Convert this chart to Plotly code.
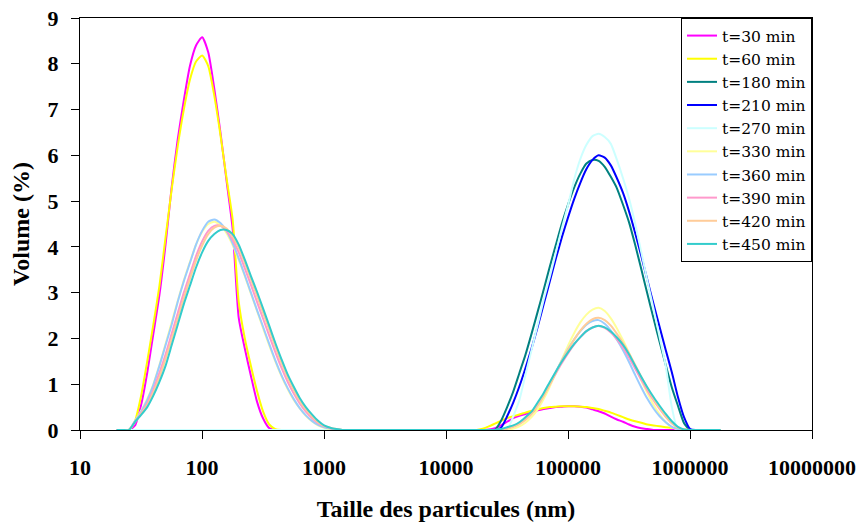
import plotly.graph_objects as go

# Particle size classes (nm)
sizes_nm = [
    20.0, 22.44, 25.18, 28.25, 31.70, 35.57, 39.91, 44.77, 50.24, 56.37,
    63.25, 70.96, 79.62, 89.34, 100.24, 112.47, 126.19, 141.59, 158.87, 178.25,
    200.0, 224.4, 251.8, 282.5, 317.0, 355.7, 399.1, 447.7, 502.4, 563.7,
    632.5, 709.6, 796.2, 893.4, 1002.4, 1124.7, 1261.9, 1415.9, 1588.7, 1782.5,
    2000, 2244, 2518, 2825, 3170, 3557, 3991, 4477, 5024, 5637,
    6325, 7096, 7962, 8934, 10024, 11247, 12619, 14159, 15887, 17825,
    20000, 22440, 25179, 28251, 31698, 35566, 39905, 44774, 50238, 56368,
    63246, 70963, 79621, 89337, 100237, 112468, 126191, 141589, 158866, 178250,
    200000, 224404, 251785, 282508, 316979, 355656, 399052, 447744, 502377, 563677,
    632456, 709627, 796214, 893367, 1002374, 1124683, 1261915, 1415892, 1588656, 1782502,
]

# Volume (%) per series
t30 = ([0] * 3
       + [0.1, 0.55, 1.25, 2.1, 2.95, 4.05, 5.3, 6.35, 7.2, 7.95, 8.4, 8.58, 8.25, 7.45,
          6.5, 5.45, 4.4, 2.45, 1.78, 1.18, 0.62, 0.25, 0.04, 0]
       + [0] * 34
       + [0.01, 0.04, 0.1, 0.18, 0.26, 0.31, 0.35, 0.39, 0.43, 0.46, 0.48, 0.5, 0.51, 0.52,
          0.52, 0.51, 0.49, 0.45, 0.41, 0.36, 0.29, 0.23, 0.18, 0.12, 0.07, 0.04, 0.02]
       + [0] * 12)

t60 = ([0] * 3
       + [0.2, 0.75, 1.5, 2.3, 3.15, 4.2, 5.25, 6.2, 7.0, 7.65, 8.05, 8.18, 7.95, 7.3,
          6.45, 5.5, 4.6, 2.8, 2.0, 1.4, 0.85, 0.4, 0.12, 0.02, 0]
       + [0] * 32
       + [0.03, 0.08, 0.14, 0.2, 0.26, 0.3, 0.34, 0.38, 0.42, 0.45, 0.48, 0.5, 0.51, 0.52,
          0.52, 0.52, 0.51, 0.5, 0.48, 0.46, 0.42, 0.38, 0.33, 0.28, 0.23, 0.19, 0.16, 0.12,
          0.1, 0.08, 0.06, 0.05, 0.03, 0.01]
       + [0] * 6)

t180 = ([0] * 63
        + [0.2, 0.5, 0.84, 1.24, 1.64, 2.1, 2.58, 3.07, 3.57, 4.05, 4.52, 4.93, 5.3, 5.6,
           5.82, 5.9, 5.88, 5.75, 5.53, 5.28, 4.92, 4.53, 4.04, 3.51, 2.97, 2.44, 1.92,
           1.42, 0.93, 0.53, 0.15]
        + [0] * 6)

t210 = ([0] * 63
        + [0.05, 0.3, 0.6, 0.95, 1.35, 1.78, 2.25, 2.75, 3.25, 3.75, 4.22, 4.65, 5.05, 5.4,
           5.7, 5.9, 6.0, 5.95, 5.78, 5.5, 5.18, 4.77, 4.3, 3.8, 3.27, 2.75, 2.25, 1.75,
           1.26, 0.72, 0.28, 0.02]
        + [0] * 5)

t270 = ([0] * 65
        + [0.3, 0.65, 1.2, 1.75, 2.3, 2.85, 3.35, 3.88, 4.42, 4.92, 5.48, 5.92, 6.23, 6.42,
           6.47, 6.4, 6.25, 5.9, 5.5, 5.05, 4.5, 3.88, 3.25, 2.65, 2.03, 1.4, 0.5]
        + [0] * 8)

t330 = ([0] * 3
        + [0.2, 0.42, 0.68, 1.0, 1.42, 1.88, 2.35, 2.82, 3.27, 3.67, 4.05, 4.33, 4.5, 4.55,
           4.47, 4.3, 4.04, 3.72, 3.36, 2.98, 2.6, 2.22, 1.85, 1.5, 1.18, 0.9, 0.66, 0.47,
           0.31, 0.19, 0.1, 0.05, 0.02]
        + [0] * 29
        + [0.03, 0.08, 0.16, 0.28, 0.45, 0.68, 0.95, 1.25, 1.55, 1.85, 2.12, 2.35, 2.52,
           2.63, 2.67, 2.6, 2.44, 2.22, 1.96, 1.68, 1.38, 1.08, 0.8, 0.55, 0.34, 0.17, 0.06,
           0.01]
        + [0] * 7)

t360 = ([0] * 3
        + [0.2, 0.4, 0.65, 0.98, 1.4, 1.85, 2.3, 2.8, 3.25, 3.65, 4.05, 4.35, 4.55, 4.6,
           4.52, 4.35, 4.08, 3.75, 3.38, 3.0, 2.62, 2.25, 1.88, 1.52, 1.2, 0.92, 0.68, 0.48,
           0.32, 0.2, 0.11, 0.06, 0.03, 0.01]
        + [0] * 26
        + [0.01, 0.04, 0.08, 0.15, 0.25, 0.38, 0.56, 0.78, 1.02, 1.28, 1.53, 1.77, 1.98,
           2.16, 2.3, 2.38, 2.4, 2.32, 2.17, 1.97, 1.74, 1.48, 1.2, 0.93, 0.68, 0.47, 0.3,
           0.17, 0.07, 0.02]
        + [0] * 7)

t390 = ([0] * 3
        + [0.18, 0.37, 0.58, 0.88, 1.25, 1.65, 2.1, 2.55, 3.0, 3.4, 3.8, 4.12, 4.35, 4.46,
           4.46, 4.35, 4.15, 3.88, 3.53, 3.17, 2.8, 2.43, 2.06, 1.7, 1.36, 1.06, 0.8, 0.58,
           0.4, 0.26, 0.15, 0.08, 0.04, 0.01]
        + [0] * 26
        + [0.01, 0.04, 0.08, 0.14, 0.24, 0.36, 0.54, 0.76, 1.0, 1.24, 1.47, 1.68, 1.87,
           2.03, 2.16, 2.24, 2.27, 2.23, 2.13, 1.98, 1.8, 1.58, 1.34, 1.1, 0.86, 0.65, 0.46,
           0.29, 0.15, 0.05, 0.01]
        + [0] * 6)

t420 = ([0] * 3
        + [0.17, 0.35, 0.54, 0.82, 1.15, 1.55, 1.98, 2.43, 2.88, 3.3, 3.7, 4.03, 4.28, 4.42,
           4.46, 4.4, 4.22, 3.98, 3.65, 3.29, 2.93, 2.56, 2.19, 1.82, 1.47, 1.15, 0.88, 0.64,
           0.45, 0.3, 0.17, 0.09, 0.05, 0.02]
        + [0] * 26
        + [0.01, 0.03, 0.07, 0.13, 0.22, 0.35, 0.53, 0.75, 1.0, 1.26, 1.52, 1.76, 1.98,
           2.17, 2.32, 2.42, 2.45, 2.4, 2.28, 2.1, 1.9, 1.67, 1.42, 1.16, 0.91, 0.68, 0.48,
           0.3, 0.15, 0.05, 0.01]
        + [0] * 6)

t450 = ([0] * 3
        + [0.18, 0.33, 0.5, 0.75, 1.05, 1.4, 1.85, 2.3, 2.75, 3.15, 3.55, 3.88, 4.13, 4.28,
           4.37, 4.37, 4.28, 4.05, 3.72, 3.36, 3.02, 2.65, 2.28, 1.9, 1.55, 1.22, 0.95, 0.7,
           0.5, 0.34, 0.2, 0.1, 0.05, 0.02]
        + [0] * 26
        + [0.02, 0.06, 0.1, 0.17, 0.28, 0.4, 0.6, 0.81, 1.05, 1.28, 1.5, 1.7, 1.88, 2.03,
           2.16, 2.24, 2.28, 2.24, 2.15, 2.02, 1.86, 1.65, 1.4, 1.16, 0.93, 0.72, 0.53, 0.35,
           0.19, 0.07, 0.01]
        + [0] * 6)

series_names = ["t=30 min", "t=60 min", "t=180 min", "t=210 min", "t=270 min",
                "t=330 min", "t=360 min", "t=390 min", "t=420 min", "t=450 min"]
series_values = [t30, t60, t180, t210, t270, t330, t360, t390, t420, t450]
series_colors = ["#FF00FF", "#FFFF00", "#008080", "#0000FF", "#CCFFFF",
                 "#FFFF99", "#99CCFF", "#FF99CC", "#FFCC99", "#33CCCC"]

x_tickvals = [10, 100, 1000, 10000, 100000, 1000000, 10000000]
x_ticktext = ["10", "100", "1000", "10000", "100000", "1000000", "10000000"]
y_tickvals = [0, 1, 2, 3, 4, 5, 6, 7, 8, 9]

fig = go.Figure()
for name, vals, col in zip(series_names, series_values, series_colors):
    assert len(vals) == len(sizes_nm)
    fig.add_trace(go.Scatter(x=sizes_nm, y=vals, mode="lines", name=name,
                             line=dict(color=col, width=2, shape="spline", smoothing=0.6)))

serif = "Liberation Serif"
fig.update_layout(
    width=861, height=523,
    margin=dict(l=80, r=49, t=18, b=93),
    paper_bgcolor="white", plot_bgcolor="white",
    showlegend=True,
    legend=dict(x=1, y=1, xanchor="right", yanchor="top",
                bgcolor="white", bordercolor="black", borderwidth=1,
                font=dict(family="DejaVu Serif", size=15.5, color="black"),
                tracegroupgap=0),
    xaxis=dict(type="log", range=[1, 7], tickvals=x_tickvals, ticktext=x_ticktext,
               automargin=False, ticklabeloverflow="allow",
               ticks="outside", ticklen=8, tickcolor="black", tickwidth=1,
               showline=True, linecolor="black", linewidth=1, mirror=True,
               showgrid=False, zeroline=False,
               ticklabelstandoff=10,
               tickfont=dict(family=serif, size=22, color="black", weight="bold"),
               title=dict(text="Taille des particules (nm)", standoff=20,
                          font=dict(family=serif, size=24, color="black", weight="bold"))),
    yaxis=dict(range=[0, 9], tickvals=y_tickvals, automargin=False,
               ticklabeloverflow="allow",
               ticks="outside", ticklen=8, tickcolor="black", tickwidth=1,
               showline=True, linecolor="black", linewidth=1, mirror=True,
               showgrid=False, zeroline=False,
               ticklabelstandoff=8,
               tickfont=dict(family=serif, size=22, color="black", weight="bold"),
               title=dict(text="Volume (%)", standoff=11,
                          font=dict(family=serif, size=24, color="black", weight="bold"))),
)

# remove the default page margin so the figure sits at the window's top-left corner
fig.write_html("out.html", config={"displayModeBar": False},
               post_script="document.body.style.margin='0';")
